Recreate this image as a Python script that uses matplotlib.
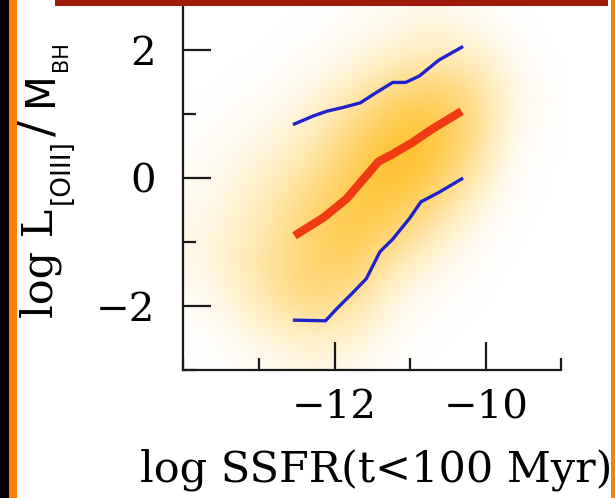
import matplotlib
matplotlib.use("Agg")
import matplotlib.pyplot as plt
import numpy as np
from matplotlib.colors import LinearSegmentedColormap
from matplotlib.patches import Rectangle
from matplotlib.ticker import MultipleLocator

# median curve (red) and upper / lower envelope (blue)
med_x = [-12.53, -12.14, -11.84, -11.58, -11.42, -11.23, -10.97, -10.71, -10.32]
med_y = [-0.90, -0.61, -0.32, 0.04, 0.26, 0.38, 0.56, 0.77, 1.05]

up_x = [-12.53, -12.27, -12.10, -11.88, -11.66, -11.45, -11.23, -11.06, -10.88, -10.62, -10.32]
up_y = [0.85, 0.98, 1.05, 1.11, 1.18, 1.34, 1.50, 1.50, 1.60, 1.85, 2.05]

lo_x = [-12.53, -12.12, -11.97, -11.75, -11.58, -11.40, -11.23, -11.01, -10.86, -10.62, -10.32]
lo_y = [-2.22, -2.23, -2.04, -1.78, -1.57, -1.15, -0.95, -0.63, -0.37, -0.22, -0.01]

# rough point density of the orange cloud in 0.5 x 0.5 cells
# columns: x = -13.75 ... -9.25, rows: y = 2.75 (top) ... -2.75 (bottom)
density = [
    [0.00, 0.00, 0.00, 0.00, 0.02, 0.05, 0.08, 0.05, 0.00, 0.00],
    [0.00, 0.00, 0.00, 0.02, 0.05, 0.10, 0.15, 0.12, 0.03, 0.00],
    [0.00, 0.00, 0.02, 0.05, 0.12, 0.25, 0.35, 0.30, 0.10, 0.00],
    [0.00, 0.02, 0.05, 0.12, 0.30, 0.55, 0.65, 0.50, 0.15, 0.02],
    [0.02, 0.05, 0.10, 0.25, 0.50, 0.75, 0.80, 0.55, 0.10, 0.01],
    [0.03, 0.10, 0.20, 0.35, 0.65, 0.85, 0.80, 0.45, 0.06, 0.00],
    [0.05, 0.15, 0.30, 0.50, 0.75, 0.80, 0.60, 0.25, 0.03, 0.00],
    [0.08, 0.20, 0.35, 0.60, 0.75, 0.60, 0.35, 0.10, 0.01, 0.00],
    [0.08, 0.25, 0.40, 0.60, 0.65, 0.35, 0.15, 0.04, 0.00, 0.00],
    [0.05, 0.20, 0.40, 0.55, 0.45, 0.15, 0.05, 0.01, 0.00, 0.00],
    [0.02, 0.10, 0.25, 0.35, 0.25, 0.06, 0.02, 0.00, 0.00, 0.00],
    [0.00, 0.03, 0.08, 0.12, 0.08, 0.02, 0.00, 0.00, 0.00, 0.00],
]

XLIM = (-14, -9)
YLIM = (-3, 3)
W, H = 615, 498

plt.rcParams["font.family"] = "DejaVu Serif"

fig = plt.figure(figsize=(W / 100, H / 100), dpi=100)
ax = fig.add_axes([0.298, 0.257, 0.615, 0.770])

orange = LinearSegmentedColormap.from_list(
    "cloud", [(1.0, 0.71, 0.0, 0.0), (1.0, 0.73, 0.08, 0.55), (1.0, 0.70, 0.0, 1.0)]
)
ax.imshow(np.array(density), extent=(*XLIM, *YLIM), origin="upper", aspect="auto",
          interpolation="bicubic", cmap=orange, vmin=0, vmax=1, zorder=1)

ax.plot(up_x, up_y, color="#2222cc", lw=2.4, zorder=3)
ax.plot(lo_x, lo_y, color="#2222cc", lw=2.4, zorder=3)
ax.plot(med_x, med_y, color="#f03a12", lw=6, solid_capstyle="butt", zorder=4)

ax.set_xlim(*XLIM)
ax.set_ylim(*YLIM)
ax.xaxis.set_minor_locator(MultipleLocator(1))
ax.yaxis.set_minor_locator(MultipleLocator(1))
ax.set_xticks([-12, -10])
ax.set_yticks([-2, 0, 2])

for side in ("top", "right"):
    ax.spines[side].set_visible(False)
for side in ("left", "bottom"):
    ax.spines[side].set_linewidth(1.6)
    ax.spines[side].set_color("#1a1a1a")

ax.tick_params(which="major", direction="in", length=20, width=1.6, color="#1a1a1a", labelsize=29)
ax.tick_params(which="minor", direction="in", length=9, width=1.6, color="#1a1a1a")
ax.tick_params(axis="x", which="major", pad=14)
ax.tick_params(axis="y", which="major", pad=20)

fig.text(376 / W, 1 - 481 / H, "log SSFR(t<100 Myr)", fontsize=31, ha="center", va="baseline")

# y label built from pieces so the subscripts keep their large size
# (text, family, size, baseline x px, start y px)
ylab_pieces = [
    ("log L", "DejaVu Serif", 31, 52, 318),
    ("[OIII]", "DejaVu Sans", 19, 69, 204),
    ("/", "DejaVu Serif", 34, 52, 136),
    ("M", "DejaVu Sans", 29, 52, 106),
    ("BH", "DejaVu Sans", 15, 67, 71),
]
for s, fam, size, base_px, start_px in ylab_pieces:
    fig.text(base_px / W, 1 - start_px / H, s, family=fam, fontsize=size, rotation=90,
             rotation_mode="anchor", ha="left", va="baseline")

# framing bits of the slide crop
fig.patches.append(Rectangle((0, 0), 9 / W, 1, transform=fig.transFigure,
                             facecolor="black", edgecolor="none", zorder=10))
fig.patches.append(Rectangle((9 / W, 0), 8 / W, 1, transform=fig.transFigure,
                             facecolor="#ff7f00", edgecolor="none", zorder=10))
fig.patches.append(Rectangle((611 / W, 0), 4 / W, 1, transform=fig.transFigure,
                             facecolor="#ff7f00", edgecolor="none", zorder=10))
fig.patches.append(Rectangle((55 / W, 1 - 6 / H), 553 / W, 6 / H, transform=fig.transFigure,
                             facecolor="#9e1b0b", edgecolor="none", zorder=10))
fig.patches.append(Rectangle((57 / W, 1 - 3.5 / H), 549 / W, 0.8 / H, transform=fig.transFigure,
                             facecolor="#d9826f", edgecolor="none", zorder=11))

fig.savefig("out.png", dpi=100, facecolor="white")
